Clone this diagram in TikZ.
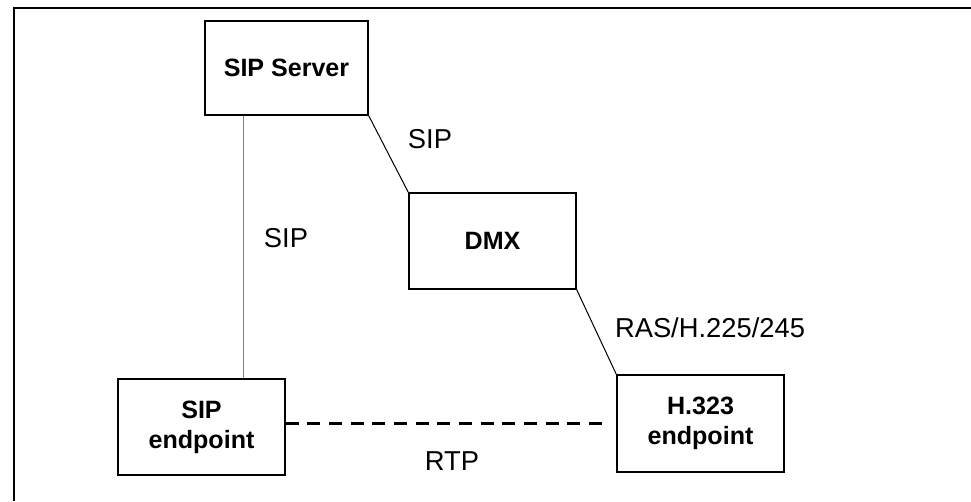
\documentclass[tikz,border=0pt]{standalone}
\usepackage{fontspec}
\setmainfont{Liberation Sans}
\begin{document}
\begin{tikzpicture}[x=0.75pt,y=-0.75pt,
  box/.style={draw=black,line width=1.1pt,inner sep=0pt,align=center,
    font=\fontsize{18.8}{22.5}\selectfont\bfseries},
  lbl/.style={inner sep=0pt,font=\fontsize{20.5}{24}\selectfont,text height=0.716em,text depth=0pt},
  conn/.style={line width=0.75pt,black},
  rtpline/.style={line width=2.5pt,dash pattern=on 9.75pt off 6.5pt}]
\useasboundingbox (0,0) rectangle (971,501);
% frame (cropped: only top and left visible)
\draw[line width=2pt] (14,501) -- (14,8) -- (971,8);
% boxes
\node[box,minimum width=122.25pt,minimum height=70.5pt] (srv) at (286.5,68) {SIP Server};
\node[box,minimum width=125.25pt,minimum height=72pt] (dmx) at (492.5,241) {DMX};
\node[box,minimum width=125.25pt,minimum height=72pt] (sipep) at (201.5,427) {SIP\\endpoint};
\node[box,minimum width=125.25pt,minimum height=72.75pt] (h323) at (700.5,423.5) {H.323\\endpoint};
% connectors
\coordinate (vx) at (243,0);
\draw[line width=0.75pt,draw=gray] (srv.south -| vx) -- (sipep.north -| vx);
\draw[conn] (srv.south east) -- (dmx.north west);
\draw[conn] (dmx.south east) -- (h323.north west);
\draw[rtpline,shorten >=5.25pt] (sipep.east |- h323.west) -- (h323.west);
% labels
\node[lbl] (l1) at (430,143.5) {SIP};
\node[lbl] (l2) at (286,243) {SIP};
\node[lbl] (l3) at (710,333) {RAS/H.225/245};
\node[lbl] (l4) at (452,466) {RTP};
\end{tikzpicture}
\end{document}
